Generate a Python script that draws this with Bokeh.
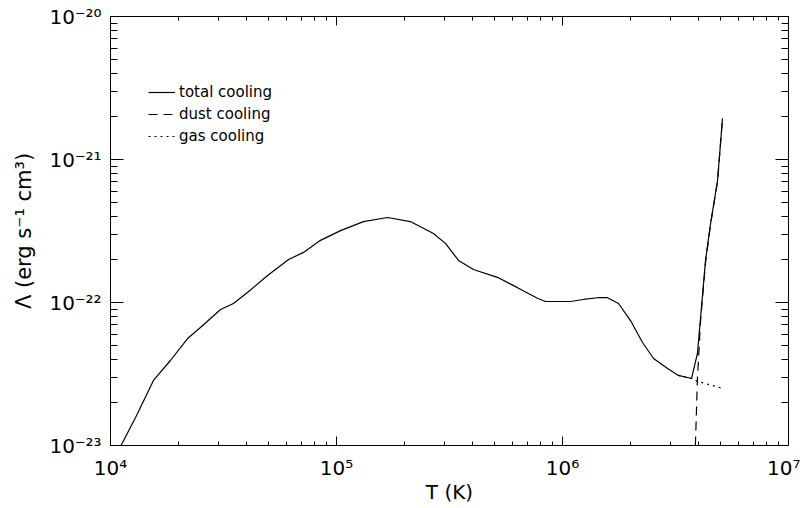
from bokeh.plotting import figure
from bokeh.models import Range1d, LogAxis, FixedTicker, Legend, LegendItem, CustomJSTickFormatter
from bokeh.embed import file_html
from bokeh.resources import INLINE

# ---- data ----
T_total = [1.00e4, 1.107e4, 1.291e4, 1.549e4, 1.841e4, 2.193e4, 2.500e4, 3.069e4, 3.499e4,
           4.036e4, 4.955e4, 6.138e4, 7.145e4, 8.492e4, 1.042e5, 1.315e5, 1.683e5, 2.123e5,
           2.685e5, 3.034e5, 3.467e5, 4.036e5, 5.152e5, 6.324e5, 7.745e5, 8.414e5, 1.084e6,
           1.239e6, 1.429e6, 1.581e6, 1.770e6, 2.000e6, 2.259e6, 2.529e6, 2.917e6, 3.258e6,
           3.724e6, 3.954e6, 4.083e6, 4.295e6, 4.519e6, 4.853e6, 5.105e6]
L_total = [7.24e-24, 9.84e-24, 1.57e-23, 2.85e-23, 3.93e-23, 5.60e-23, 6.68e-23, 8.93e-23, 9.84e-23,
           1.175e-22, 1.545e-22, 2.00e-22, 2.24e-22, 2.72e-22, 3.18e-22, 3.68e-22, 3.93e-22, 3.68e-22,
           3.04e-22, 2.59e-22, 1.97e-22, 1.70e-22, 1.50e-22, 1.27e-22, 1.07e-22, 1.016e-22, 1.016e-22,
           1.05e-22, 1.08e-22, 1.08e-22, 9.84e-23, 7.48e-23, 5.25e-23, 4.06e-23, 3.45e-23, 3.09e-23,
           2.94e-23, 4.40e-23, 7.85e-23, 1.97e-22, 3.56e-22, 7.13e-22, 1.94e-21]

T_dust = [3.837e6, 3.873e6, 3.954e6, 4.083e6, 4.295e6, 4.519e6, 4.853e6, 5.105e6]
L_dust = [7.85e-24, 1.00e-23, 2.94e-23, 7.48e-23, 1.91e-22, 3.51e-22, 7.02e-22, 1.94e-21]

T_gas = [3.258e6, 3.724e6, 3.954e6, 5.105e6]
L_gas = [3.09e-23, 2.94e-23, 2.81e-23, 2.51e-23]

x_major = [1e4, 1e5, 1e6, 1e7]
x_labels = ["10\u2074", "10\u2075", "10\u2076", "10\u2077"]
y_major = [1e-23, 1e-22, 1e-21, 1e-20]
y_labels = ["10\u207b\u00b2\u00b3", "10\u207b\u00b2\u00b2", "10\u207b\u00b2\u00b9", "10\u207b\u00b2\u2070"]

FONT = "DejaVu Sans"

x_minor = [m * d for d in x_major[:-1] for m in range(2, 10)]
y_minor = [m * d for d in y_major[:-1] for m in range(2, 10)]

LABEL_JS = """
let best = -1, bd = 1e9;
for (let i = 0; i < tv.length; i++) {
  const d = Math.abs(Math.log10(tv[i]) - Math.log10(tick));
  if (d < bd) { bd = d; best = i; }
}
return (best >= 0 && bd < 1e-6) ? lab[best] : "";
"""

p = figure(x_axis_type="log", y_axis_type="log",
           x_range=Range1d(1e4, 1e7), y_range=Range1d(1e-23, 1e-20),
           frame_width=678, frame_height=429,
           min_border_left=110, min_border_right=12, min_border_top=16, min_border_bottom=60,
           output_backend="svg", toolbar_location=None)
p.grid.visible = False
p.outline_line_color = None
p.background_fill_color = "white"
p.border_fill_color = "white"


def style_axis(ax, tick_in, minor_in):
    ax.axis_line_color = "black"
    ax.axis_line_width = 1
    ax.major_tick_line_color = "black"
    ax.minor_tick_line_color = "black"
    ax.major_tick_in = tick_in
    ax.major_tick_out = 0
    ax.minor_tick_in = minor_in
    ax.minor_tick_out = 0


xa = p.xaxis[0]
ya = p.yaxis[0]
xa.ticker = FixedTicker(ticks=x_major, minor_ticks=x_minor)
ya.ticker = FixedTicker(ticks=y_major, minor_ticks=y_minor)
style_axis(xa, 9, 4)
style_axis(ya, 13, 7)
xa.formatter = CustomJSTickFormatter(args=dict(tv=x_major, lab=x_labels), code=LABEL_JS)
ya.formatter = CustomJSTickFormatter(args=dict(tv=y_major, lab=y_labels), code=LABEL_JS)
for ax in (xa, ya):
    ax.major_label_text_font = FONT
    ax.major_label_text_font_size = "20px"
    ax.major_label_text_color = "black"
    ax.axis_label_text_font = FONT
    ax.axis_label_text_font_style = "normal"
    ax.axis_label_text_color = "black"
xa.axis_label_text_font_size = "20px"
ya.axis_label_text_font_size = "21px"
xa.major_label_standoff = 10
ya.major_label_standoff = 9
xa.axis_label = "T (K)"
ya.axis_label = "\u039b (erg s\u207b\u00b9 cm\u00b3)"
xa.axis_label_standoff = -3
ya.axis_label_standoff = 10

top = LogAxis(ticker=FixedTicker(ticks=x_major, minor_ticks=x_minor))
right = LogAxis(ticker=FixedTicker(ticks=y_major, minor_ticks=y_minor))
for ax in (top, right):
    ax.major_label_text_font_size = "1px"
    ax.major_label_text_alpha = 0
    ax.major_label_standoff = 0
style_axis(top, 9, 4)
style_axis(right, 13, 7)
p.add_layout(top, "above")
p.add_layout(right, "right")

r_total = p.line(T_total, L_total, line_color="black", line_width=1.2)
r_dust = p.line(T_dust, L_dust, line_color="black", line_width=1.2, line_dash="9 6")
r_gas = p.line(T_gas, L_gas, line_color="black", line_width=1.2, line_dash="2 4")

legend = Legend(items=[LegendItem(label="total cooling", renderers=[r_total]),
                       LegendItem(label="dust cooling", renderers=[r_dust]),
                       LegendItem(label="gas cooling", renderers=[r_gas])],
                location=(38, 298), glyph_width=27, glyph_height=22, label_height=22,
                label_standoff=4, spacing=0, padding=0, margin=0,
                border_line_color=None, background_fill_alpha=0,
                label_text_font=FONT, label_text_font_size="15px", label_text_color="black")
p.add_layout(legend)

open("out.html", "w").write(file_html(p, INLINE))
